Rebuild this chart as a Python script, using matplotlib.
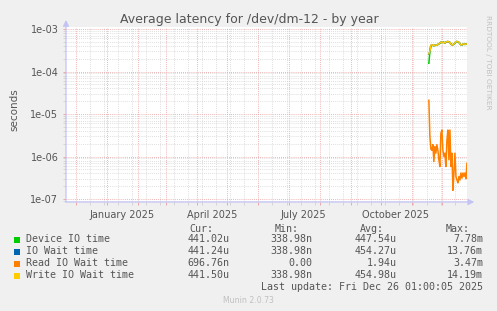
import numpy as np
import pandas as pd
import matplotlib
matplotlib.use("Agg")
import matplotlib.pyplot as plt
import matplotlib.dates as mdates
from matplotlib.ticker import FixedLocator, LogLocator, NullFormatter
from matplotlib.patches import Rectangle
from matplotlib.transforms import blended_transform_factory

# daily averages, last ~5 weeks of the year view
days = pd.date_range("2025-11-18", "2025-12-26", freq="D")

device_io_us = [156, 290, 400, 420, 410, 405, 410, 420, 415, 430, 445, 460, 485,
                480, 490, 485, 470, 490, 500, 505, 490, 480, 450, 420, 425, 440,
                465, 500, 505, 495, 480, 455, 425, 420, 435, 445, 430, 441, 441]
io_wait_us = [255, 300, 410, 428, 414, 402, 414, 424, 411, 434, 450, 469, 489,
              484, 494, 481, 466, 494, 504, 509, 494, 484, 446, 416, 429, 444,
              469, 504, 509, 499, 484, 451, 421, 424, 439, 449, 434, 441, 441]
write_wait_us = [260, 300, 410, 430, 415, 400, 415, 425, 410, 435, 450, 470, 490,
                 485, 495, 480, 465, 495, 505, 510, 495, 485, 445, 415, 430, 445,
                 470, 505, 510, 500, 485, 450, 420, 425, 440, 450, 435, 441, 441.5]
read_wait_ns = [21000, 3000, 1500, 1400, 1900, 760, 1700, 1200, 1900, 1400, 840, 580, 3500,
                4200, 1400, 1000, 1200, 580, 2400, 4200, 840, 4200, 580, 1200, 160, 410,
                1200, 340, 280, 240, 340, 280, 410, 310, 410, 340, 410, 300, 697]

legend_names = ["Device IO time", "IO Wait time", "Read IO Wait time", "Write IO Wait time"]
colors = ["#00CC00", "#0066B3", "#FF8000", "#FFCC00"]
cur_vals = ["441.02u", "441.24u", "696.76n", "441.50u"]
min_vals = ["338.98n", "338.98n", "0.00", "338.98n"]
avg_vals = ["447.54u", "454.27u", "1.94u", "454.98u"]
max_vals = ["7.78m", "13.76m", "3.47m", "14.19m"]

x_start = pd.Timestamp("2024-11-21 01:00")
x_end = pd.Timestamp("2025-12-26 01:00")
month_labels = ["January 2025", "April 2025", "July 2025", "October 2025"]
month_label_dates = pd.to_datetime(["2025-01-15 12:00", "2025-04-15 12:00",
                                    "2025-07-15 12:00", "2025-10-15 12:00"])

W, H = 497, 311
bg = "#F0F0F0"
txt = "#555555"
fig = plt.figure(figsize=(W / 100, H / 100), dpi=100, facecolor=bg)
ax = fig.add_axes([66 / W, (H - 202) / H, 401 / W, 175 / H])
ax.set_facecolor("white")

series = [np.array(device_io_us) * 1e-6, np.array(io_wait_us) * 1e-6,
          np.array(read_wait_ns) * 1e-9, np.array(write_wait_us) * 1e-6]
for vals, c in zip(series, colors):
    ax.plot(days, vals, color=c, lw=1.1, zorder=3)

ax.set_yscale("log")
ax.set_ylim(10 ** -7.07, 10 ** -2.953)
ax.set_xlim(x_start, x_end)

# grid: red dotted majors, grey dotted minors
decades = [1e-7, 1e-6, 1e-5, 1e-4, 1e-3]
ax.yaxis.set_major_locator(FixedLocator(decades))
ax.set_yticklabels([f"1e-{int(round(-np.log10(d))):02d}" for d in decades])
ax.yaxis.set_minor_locator(LogLocator(base=10, subs=np.arange(2, 10)))
ax.yaxis.set_minor_formatter(NullFormatter())

ax.xaxis.set_major_locator(mdates.MonthLocator(bymonthday=1))
ax.xaxis.set_major_formatter(NullFormatter())
biweekly = pd.date_range("2024-11-17", x_end, freq="14D")
ax.xaxis.set_minor_locator(FixedLocator(mdates.date2num(biweekly)))
ax.xaxis.set_minor_formatter(NullFormatter())

ax.grid(which="minor", color="#d4d4d4", lw=0.6, ls=(0, (1, 1.5)), zorder=1)
ax.grid(which="major", color="#ec9c9c", lw=0.6, ls=(0, (1, 1.5)), zorder=2)

ax.tick_params(which="major", length=2.5, width=0.6, color="#ec9c9c",
               labelsize=7, labelcolor=txt, pad=3)
ax.tick_params(which="minor", length=2, width=0.6, color="#d0d0d0")

tr = blended_transform_factory(ax.transData, ax.transAxes)
for lab, d in zip(month_labels, month_label_dates):
    ax.text(mdates.date2num(d), -0.045, lab, transform=tr, ha="center", va="top",
            fontsize=7, color=txt)

for s in ax.spines.values():
    s.set_visible(False)
axis_col = "#c4c4f4"
ax.annotate("", xy=(0, 1.04), xytext=(0, 0), xycoords="axes fraction",
            arrowprops=dict(arrowstyle="-|>,head_length=0.35,head_width=0.18",
                            color=axis_col, lw=0.9, shrinkA=0, shrinkB=0))
ax.annotate("", xy=(1.018, 0), xytext=(0, 0), xycoords="axes fraction",
            arrowprops=dict(arrowstyle="-|>,head_length=0.35,head_width=0.18",
                            color=axis_col, lw=0.9, shrinkA=0, shrinkB=0))

ax.set_ylabel("seconds", fontsize=7.5, color=txt)
ax.yaxis.set_label_coords(-0.115, 0.53)

fig.text(249 / W, 1 - 19 / H, "Average latency for /dev/dm-12 - by year",
         ha="center", va="center", fontsize=9, color=txt)
fig.text(488 / W, 1 - 15 / H, "RRDTOOL / TOBI OETIKER", rotation=270,
         ha="center", va="top", fontsize=5.3, color="#c0c0c0")

# legend block (monospace, rrdtool style)
mono = "DejaVu Sans Mono"
lfs = 7.2
fy = lambda y: 1 - y / H
for x_r, head in zip([213, 299, 384, 470], ["Cur:", "Min:", "Avg:", "Max:"]):
    fig.text(x_r / W, fy(228.5), head, ha="right", va="center",
             fontsize=lfs, family=mono, color=txt)
rows_y = [239.5, 251.5, 263.5, 275.5]
for i, name in enumerate(legend_names):
    y = rows_y[i]
    fig.patches.append(Rectangle((14 / W, fy(y + 3)), 6 / W, 6 / H,
                                 transform=fig.transFigure, facecolor=colors[i],
                                 edgecolor="none"))
    fig.text(26 / W, fy(y), name, ha="left", va="center",
             fontsize=lfs, family=mono, color=txt)
    for x_r, col in zip([229.5, 312, 397, 483], [cur_vals, min_vals, avg_vals, max_vals]):
        fig.text(x_r / W, fy(y), col[i], ha="right", va="center",
                 fontsize=lfs, family=mono, color=txt)
fig.text(483 / W, fy(287.5), "Last update: Fri Dec 26 01:00:05 2025",
         ha="right", va="center", fontsize=lfs, family=mono, color=txt)
fig.text(248 / W, fy(300.5), "Munin 2.0.73", ha="center", va="center",
         fontsize=5.6, color="#c0c0c0")

fig.savefig("out.png", dpi=100, facecolor=bg)
